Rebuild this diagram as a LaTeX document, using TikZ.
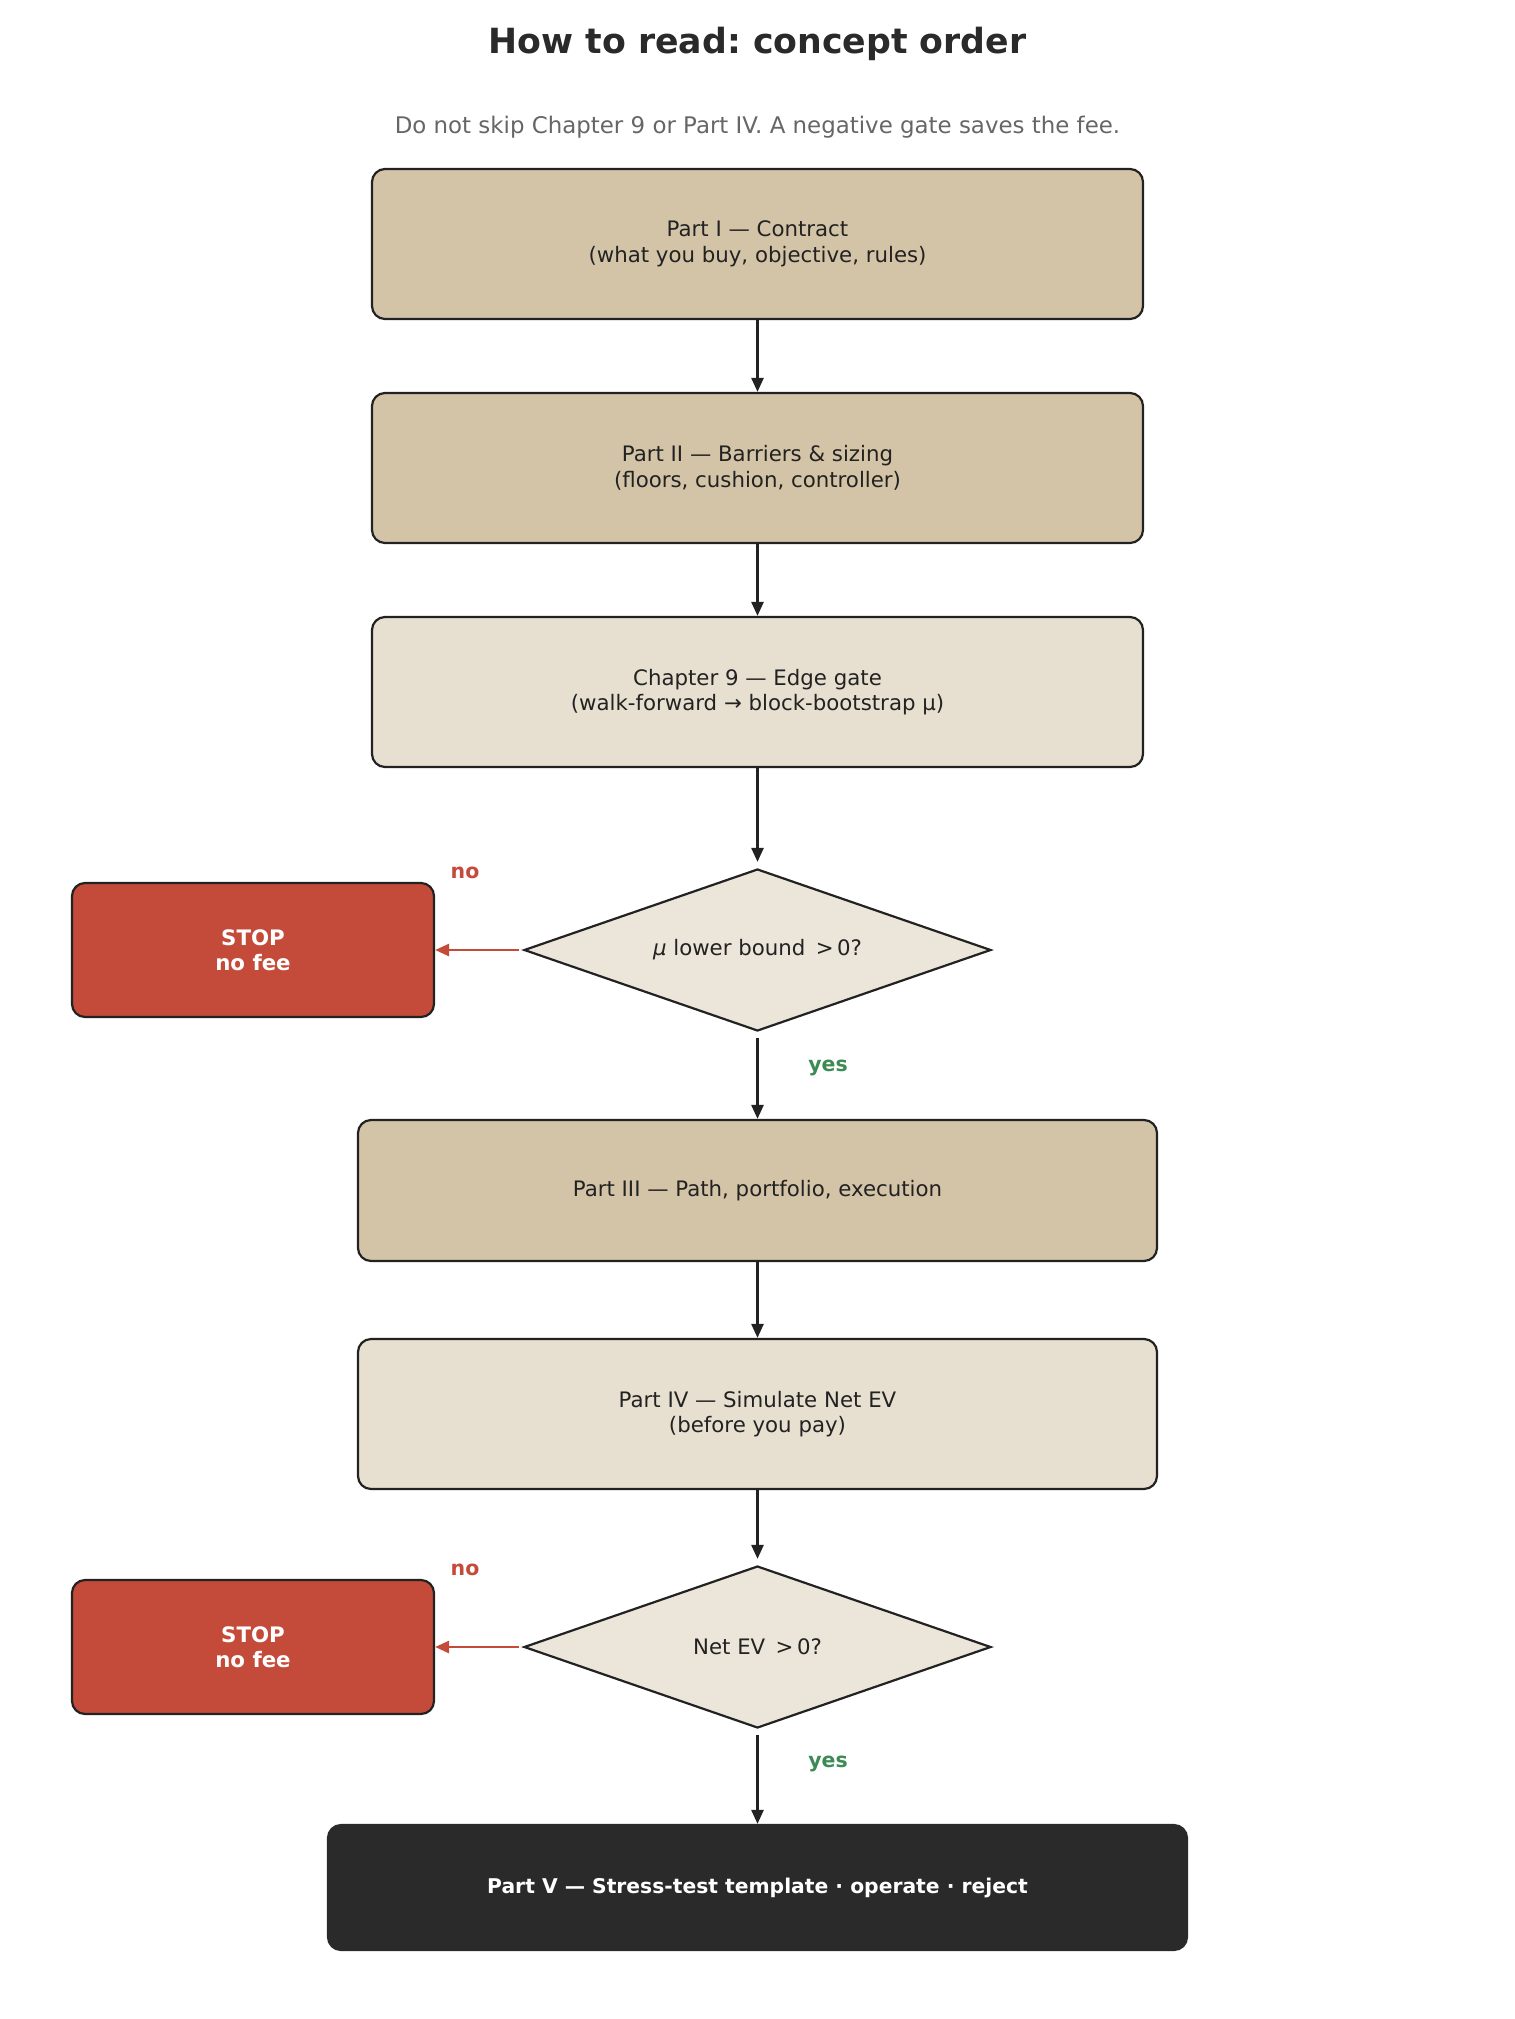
\documentclass[tikz,border=0pt]{standalone}
\usepackage{fontspec}
\setmainfont{DejaVu Sans}
\frenchspacing
\usetikzlibrary{shapes.geometric,arrows.meta}
\definecolor{tan}{HTML}{D4C4A7}
\definecolor{light}{HTML}{E7E0D0}
\definecolor{dfill}{HTML}{ECE6DA}
\definecolor{stopred}{HTML}{C44B3A}
\definecolor{dark}{HTML}{2A2A2A}
\definecolor{edge}{HTML}{222222}
\definecolor{yesgreen}{HTML}{3E8A55}
\definecolor{subgray}{HTML}{666666}
\begin{document}
\begin{tikzpicture}[x=1pt,y=-1pt,
  box/.style={draw=edge, line width=2.2pt, rounded corners=13pt, align=center, inner sep=0pt,
    text=edge, font=\fontsize{21.3}{25.7}\selectfont},
  dia/.style={draw=edge, line width=2.2pt, diamond, aspect=2.88, inner sep=0pt, fill=dfill, text=edge,
    minimum width=467pt, minimum height=162pt, font=\fontsize{21.3}{25.7}\selectfont},
  stopbox/.style={draw=edge, line width=2.2pt, rounded corners=13pt, fill=stopred, align=center,
    inner sep=0pt, text=white, minimum width=362pt, minimum height=134pt,
    font=\fontsize{21.3}{24.8}\selectfont\bfseries},
  arr/.style={draw=edge, line width=2.6pt, -{Triangle[length=14pt,width=12pt]}},
  redarr/.style={draw=stopred, line width=2.6pt, -{Triangle[length=14pt,width=12pt]}},
  nolbl/.style={text=stopred, font=\fontsize{20.5}{24}\selectfont\bfseries},
  yeslbl/.style={text=yesgreen, font=\fontsize{20.5}{24}\selectfont\bfseries}
]
\useasboundingbox (0,0) rectangle (1515,2019);
\node[text=dark, font=\fontsize{34.7}{40}\selectfont\bfseries] (title) at (757.5,44) {How to read: concept order};
\node[text=subgray, font=\fontsize{22.9}{27}\selectfont] (sub) at (757.5,127) {Do not skip Chapter 9 or Part IV. A negative gate saves the fee.};

\node[box, fill=tan, minimum width=771pt, minimum height=150pt] (p1) at (757.5,244) {Part I — Contract\\(what you buy, objective, rules)};
\node[box, fill=tan, minimum width=771pt, minimum height=150pt] (p2) at (757.5,468) {Part II — Barriers \& sizing\\(floors, cushion, controller)};
\node[box, fill=light, minimum width=771pt, minimum height=150pt] (ch9) at (757.5,692) {Chapter 9 — Edge gate\\(walk-forward → block-bootstrap µ)};
\node[dia] (d1) at (757.5,950) {{\itshape μ} lower bound \,>\,0?};
\node[stopbox] (s1) at (253,950) {STOP\\no fee};
\node[box, fill=tan, minimum width=799pt, minimum height=141pt] (p3) at (757.5,1190.5) {Part III — Path, portfolio, execution};
\node[box, fill=light, minimum width=799pt, minimum height=150pt] (p4) at (757.5,1414) {Part IV — Simulate Net EV\\(before you pay)};
\node[dia] (d2) at (757.5,1647) {Net EV \,>\,0?};
\node[stopbox] (s2) at (253,1647) {STOP\\no fee};
\node[box, draw=dark, fill=dark, text=white, minimum width=859pt, minimum height=125pt,
  font=\fontsize{20.3}{25}\selectfont\bfseries] (p5) at (757.5,1887.5) {Part V — Stress-test template · operate · reject};

\draw[arr] (p1.south) -- (p2.north);
\draw[arr] (p2.south) -- (ch9.north);
\draw[arr, shorten >=6pt] (ch9.south) -- (d1.north);
\draw[arr, shorten <=6pt] (d1.south) -- (p3.north);
\draw[redarr, shorten <=4pt] (d1.west) -- (s1.east);
\draw[arr] (p3.south) -- (p4.north);
\draw[arr, shorten >=6pt] (p4.south) -- (d2.north);
\draw[arr, shorten <=6pt] (d2.south) -- (p5.north);
\draw[redarr, shorten <=4pt] (d2.west) -- (s2.east);

\node[nolbl] (no1) at (465,873) {no};
\node[yeslbl] (yes1) at (828,1068) {yes};
\node[nolbl] (no2) at (465,1570) {no};
\node[yeslbl] (yes2) at (828,1764) {yes};
\end{tikzpicture}
\end{document}
